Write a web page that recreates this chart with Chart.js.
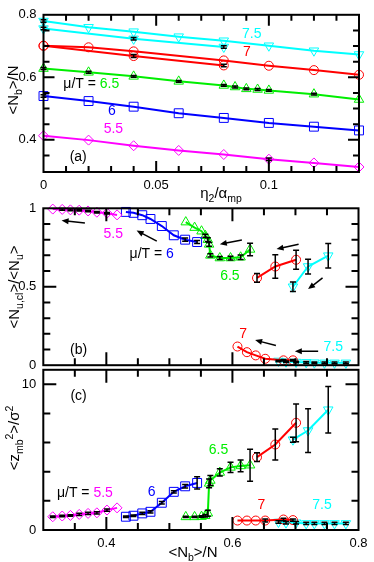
<!DOCTYPE html>
<html>
<head>
<meta charset="utf-8">
<script src="https://cdn.jsdelivr.net/npm/chart.js@4.4.0/dist/chart.umd.min.js"></script>
<style>
body { margin: 0; background: #fff; width: 374px; height: 562px; position: relative; overflow: hidden;
       font-family: "Liberation Sans", Arial, sans-serif; }
canvas { position: absolute; left: 0; }
.titulo { position: absolute; font-size: 15px; white-space: nowrap; transform: translate(-50%, -50%); color: #000; }
.girado { transform: translate(-50%, -50%) rotate(-90deg); }
sub, sup { font-size: 70%; line-height: 0; }
</style>
</head>
<body>
<canvas id="graficoA" width="374" height="200" style="top:0px"></canvas>
<canvas id="graficoB" width="374" height="190" style="top:190px"></canvas>
<canvas id="graficoC" width="374" height="207" style="top:355px"></canvas>

<div class="titulo girado" style="left:12px;top:90px">&lt;N<sub>b</sub>&gt;/N</div>
<div class="titulo" style="left:221px;top:192px">&eta;<sub>2</sub>/&alpha;<sub>mp</sub></div>
<div class="titulo girado" style="left:13px;top:287px">&lt;N<sub>u,cl</sub>&gt;/&lt;N<sub>u</sub>&gt;</div>
<div class="titulo girado" style="left:13px;top:438px">&lt;z<sub>mb</sub><sup>2</sup>&gt;/&sigma;<sup>2</sup></div>
<div class="titulo" style="left:193px;top:551px">&lt;N<sub>b</sub>&gt;/N</div>

<script>
var CIANO = '#00ffff', VERMELHO = '#ff0000', VERDE = '#00ee00', AZUL = '#0000ff', MAGENTA = '#ff00ff';
var FONTE = '"Liberation Sans", Arial, sans-serif';

// painel (a): eta2/alpha_mp x <Nb>/N
var etaA = [0, 0.02, 0.04, 0.06, 0.08, 0.1, 0.12, 0.14];
var etaRamoInf = [0, 0.04, 0.08];
var etaVermelho = [0, 0.02, 0.04, 0.08, 0.1, 0.12, 0.14];
var etaVerde = [0, 0.02, 0.04, 0.06, 0.08, 0.085, 0.09, 0.095, 0.1, 0.12, 0.14];

var nbCianoSup = [0.780, 0.760, 0.746, 0.730, 0.717, 0.701, 0.685, 0.673];
var nbCianoInf = [0.756, 0.723, 0.697];
var nbVermelhoSup = [0.701, 0.696, 0.683, 0.654, 0.637, 0.623, 0.608];
var nbVermelhoInf = [0.701, 0.668, 0.638];
var nbVerde = [0.628, 0.616, 0.603, 0.587, 0.574, 0.569, 0.563, 0.561, 0.558, 0.546, 0.529];
var nbAzul = [0.540, 0.524, 0.506, 0.485, 0.470, 0.454, 0.442, 0.430];
var nbMagenta = [0.413, 0.399, 0.381, 0.366, 0.353, 0.338, 0.326, 0.313];

var erroCianoSupA = [0.004, 0, 0, 0, 0, 0, 0, 0];
var erroCianoInfA = [0.004, 0.004, 0.004];
var erroVermelhoInfA = [0, 0.005, 0.004];
var erroVerdeA = [0.003, 0.003, 0.003, 0.003, 0.003, 0.003, 0.003, 0.003, 0.003, 0.003, 0];
var erroAzulA = [0.004, 0, 0, 0, 0, 0, 0, 0];
var erroMagentaA = [0, 0, 0, 0, 0, 0.004, 0, 0];

// paineis (b) e (c): <Nb>/N no eixo x
var xMagenta = [0.315, 0.330, 0.343, 0.357, 0.371, 0.385, 0.401, 0.417];
var xAzul = [0.431, 0.443, 0.457, 0.470, 0.488, 0.507, 0.525, 0.544];
var xVerde = [0.526, 0.540, 0.551, 0.557, 0.561, 0.563, 0.565, 0.580, 0.597, 0.613, 0.628];
var xVermelhoSup = [0.639, 0.668, 0.701];
var xVermelhoInf = [0.608, 0.623, 0.637, 0.652, 0.681, 0.696];
var xCianoSup = [0.696, 0.720, 0.752];
var xCianoInf = [0.673, 0.685, 0.701, 0.717, 0.730, 0.746, 0.762, 0.780];

// (b) <Nu,cl>/<Nu>
var clMagenta = [0.995, 0.993, 0.990, 0.988, 0.983, 0.975, 0.969, 0.958];
var clAzul = [0.977, 0.971, 0.956, 0.932, 0.887, 0.828, 0.800, 0.785];
var clVerde = [0.912, 0.877, 0.854, 0.825, 0.800, 0.770, 0.700, 0.683, 0.683, 0.688, 0.738];
var clVermelhoSup = [0.556, 0.629, 0.672];
var clVermelhoInf = [0.119, 0.083, 0.0625, 0.041, 0.031, 0.031];
var clCianoSup = [0.500, 0.629, 0.698];
var clCianoInf = [0.027, 0.022, 0.020, 0.018, 0.016, 0.015, 0.015, 0.015];

var erroMagentaB = [0, 0.005, 0.005, 0.005, 0.005, 0.005, 0.005, 0];
var erroAzulB = [0, 0, 0, 0, 0, 0, 0.01, 0.01];
var erroVerdeB = [0, 0, 0, 0.01, 0.012, 0.012, 0.01, 0.01, 0.012, 0.015, 0.04];
var erroVermelhoSupB = [0.028, 0.075, 0.06];
var erroVermelhoInfB = [0, 0, 0, 0, 0.005, 0.005];
var erroCianoSupB = [0.03, 0.047, 0.078];
var erroCianoInfB = [0.005, 0.005, 0.005, 0.005, 0.005, 0.005, 0.005, 0.005];

// (c) <zmb^2>/sigma^2
var zMagenta = [0.91, 0.96, 1.00, 1.07, 1.14, 1.18, 1.37, 1.52];
var zAzul = [0.91, 0.98, 1.14, 1.25, 1.87, 2.62, 3.00, 3.23];
var zVerde = [0.90, 0.90, 0.92, 0.98, 1.15, 3.20, 3.40, 3.95, 4.30, 4.40, 4.45];
var zVermelhoSup = [5.00, 5.87, 7.36];
var zVermelhoInf = [0.65, 0.65, 0.65, 0.65, 0.72, 0.68];
var zCianoSup = [6.20, 6.83, 8.26];
var zCianoInf = [0.55, 0.50, 0.50, 0.45, 0.45, 0.45, 0.45, 0.45];

var erroMagentaC = [0.05, 0.05, 0.05, 0.08, 0.08, 0.08, 0.08, 0];
var erroAzulC = [0.05, 0.05, 0.08, 0.08, 0.08, 0.08, 0.12, 0.42];
var erroVerdeC = [0.05, 0.05, 0.05, 0.08, 0.2, 0.3, 0.35, 0.25, 0.35, 0.4, 1.1];
var erroVermelhoSupC = [0.3, 1.06, 1.3];
var erroVermelhoInfC = [0, 0, 0, 0.1, 0.08, 0.08];
var erroCianoSupC = [0.17, 1.5, 1.6];
var erroCianoInfC = [0.08, 0.08, 0.08, 0.08, 0.08, 0.08, 0.08, 0.08];

// setas do painel (b): [x cauda, y cauda, x ponta, y ponta]
var setasB = [
    [0.366, 0.906, 0.329, 0.922],
    [0.480, 0.791, 0.448, 0.858],
    [0.615, 0.798, 0.580, 0.771],
    [0.705, 0.771, 0.670, 0.740],
    [0.743, 0.556, 0.720, 0.485],
    [0.669, 0.125, 0.636, 0.160],
    [0.736, 0.089, 0.699, 0.089]
];

var textosA = [
    { x: 0.0924, y: 0.738, partes: [['7.5', CIANO]] },
    { x: 0.0902, y: 0.680, partes: [['7', VERMELHO]] },
    { x: 0.0212, y: 0.579, partes: [['\u03bc/T = ', '#000'], ['6.5', VERDE]] },
    { x: 0.0303, y: 0.491, partes: [['6', AZUL]] },
    { x: 0.0310, y: 0.433, partes: [['5.5', MAGENTA]] },
    { x: 0.0154, y: 0.345, partes: [['(a)', '#000']] }
];
var textosB = [
    { x: 0.411, y: 0.833, partes: [['5.5', MAGENTA]] },
    { x: 0.472, y: 0.708, partes: [['\u03bc/T = ', '#000'], ['6', AZUL]] },
    { x: 0.596, y: 0.569, partes: [['6.5', VERDE]] },
    { x: 0.617, y: 0.198, partes: [['7', VERMELHO]] },
    { x: 0.760, y: 0.114, partes: [['7.5', CIANO]] },
    { x: 0.356, y: 0.094, partes: [['(b)', '#000']] }
];
var textosC = [
    { x: 0.356, y: 9.22, partes: [['(c)', '#000']] },
    { x: 0.366, y: 2.51, partes: [['\u03bc/T = ', '#000'], ['5.5', MAGENTA]] },
    { x: 0.472, y: 2.62, partes: [['6', AZUL]] },
    { x: 0.578, y: 5.46, partes: [['6.5', VERDE]] },
    { x: 0.646, y: 1.71, partes: [['7', VERMELHO]] },
    { x: 0.742, y: 1.71, partes: [['7.5', CIANO]] }
];

var RAIOS = { circle: 4.5, rect: 6.3, triangle: 5.5, rectRot: 5 };

function serie(xs, ys, cor, estilo, erros, invertido) {
    return {
        data: xs.map(function (x, i) { return { x: x, y: ys[i] }; }),
        showLine: true,
        borderColor: cor,
        backgroundColor: 'rgba(0,0,0,0)',
        borderWidth: 2,
        pointStyle: estilo,
        pointRadius: RAIOS[estilo],
        pointRotation: invertido ? 180 : 0,
        pointBorderColor: cor,
        pointBackgroundColor: 'rgba(0,0,0,0)',
        pointBorderWidth: 1,
        erros: erros || [],
        clip: false
    };
}

var molduraPlugin = {
    id: 'moldura',
    afterDatasetsDraw: function (chart, args, opts) {
        var ctx = chart.ctx, a = chart.chartArea;
        var sx = chart.scales.x, sy = chart.scales.y;
        ctx.save();

        // barras de erro
        ctx.strokeStyle = '#000';
        ctx.lineWidth = 1.5;
        chart.data.datasets.forEach(function (ds) {
            ds.data.forEach(function (p, i) {
                var e = ds.erros[i];
                if (!e) return;
                var px = sx.getPixelForValue(p.x);
                var y1 = sy.getPixelForValue(p.y - e), y2 = sy.getPixelForValue(p.y + e);
                ctx.beginPath();
                ctx.moveTo(px, y1); ctx.lineTo(px, y2);
                ctx.moveTo(px - 3, y1); ctx.lineTo(px + 3, y1);
                ctx.moveTo(px - 3, y2); ctx.lineTo(px + 3, y2);
                ctx.stroke();
            });
        });

        // moldura e marcas para dentro
        ctx.lineWidth = 2;
        ctx.strokeRect(a.left, a.top, a.right - a.left, a.bottom - a.top);
        ctx.beginPath();
        function marcasX(vals, len) {
            vals.forEach(function (v) {
                var px = sx.getPixelForValue(v);
                ctx.moveTo(px, a.bottom); ctx.lineTo(px, a.bottom - len);
                ctx.moveTo(px, a.top); ctx.lineTo(px, a.top + len);
            });
        }
        function marcasY(vals, len) {
            vals.forEach(function (v) {
                var py = sy.getPixelForValue(v);
                ctx.moveTo(a.left, py); ctx.lineTo(a.left + len, py);
                ctx.moveTo(a.right, py); ctx.lineTo(a.right - len, py);
            });
        }
        marcasX(opts.xMaior, opts.maior);
        marcasX(opts.xMenor, opts.menor);
        marcasY(opts.yMaior, opts.maior);
        marcasY(opts.yMenor, opts.menor);
        ctx.stroke();

        // setas
        (opts.setas || []).forEach(function (s) {
            var x1 = sx.getPixelForValue(s[0]), y1 = sy.getPixelForValue(s[1]);
            var x2 = sx.getPixelForValue(s[2]), y2 = sy.getPixelForValue(s[3]);
            var ang = Math.atan2(y2 - y1, x2 - x1);
            ctx.beginPath();
            ctx.lineWidth = 1.5;
            ctx.moveTo(x1, y1);
            ctx.lineTo(x2 - 5 * Math.cos(ang), y2 - 5 * Math.sin(ang));
            ctx.stroke();
            ctx.beginPath();
            ctx.fillStyle = '#000';
            ctx.moveTo(x2, y2);
            ctx.lineTo(x2 - 7 * Math.cos(ang) + 3 * Math.sin(ang), y2 - 7 * Math.sin(ang) - 3 * Math.cos(ang));
            ctx.lineTo(x2 - 7 * Math.cos(ang) - 3 * Math.sin(ang), y2 - 7 * Math.sin(ang) + 3 * Math.cos(ang));
            ctx.closePath();
            ctx.fill();
        });

        // rotulos das curvas
        ctx.font = '14px ' + FONTE;
        ctx.textBaseline = 'middle';
        ctx.textAlign = 'left';
        (opts.textos || []).forEach(function (t) {
            var total = t.partes.reduce(function (s, p) { return s + ctx.measureText(p[0]).width; }, 0);
            var px = sx.getPixelForValue(t.x) - total / 2, py = sy.getPixelForValue(t.y);
            t.partes.forEach(function (p) {
                ctx.fillStyle = p[1];
                ctx.fillText(p[0], px, py);
                px += ctx.measureText(p[0]).width;
            });
        });
        ctx.restore();
    }
};

function eixo(min, max, rotulos, tamanho, mostrar, vertical) {
    return {
        type: 'linear',
        min: min,
        max: max,
        grid: { display: false, drawTicks: false },
        border: { display: false },
        afterBuildTicks: function (s) {
            s.ticks = rotulos.map(function (v) { return { value: v }; });
        },
        afterFit: function (s) {
            if (vertical) s.width = tamanho; else s.height = tamanho;
        },
        ticks: {
            display: mostrar,
            color: '#000',
            font: { size: 13, family: FONTE },
            padding: vertical ? 7 : 6,
            maxRotation: 0,
            autoSkip: false,
            callback: function (v) { return String(v); }
        }
    };
}

function novoGrafico(id, datasets, escalaX, escalaY, padding, moldura) {
    return new Chart(document.getElementById(id).getContext('2d'), {
        type: 'scatter',
        data: { datasets: datasets },
        options: {
            responsive: false,
            animation: false,
            events: [],
            layout: { padding: padding },
            plugins: { legend: { display: false }, tooltip: { enabled: false }, moldura: moldura },
            scales: { x: escalaX, y: escalaY }
        },
        plugins: [molduraPlugin]
    });
}

var menorNb = [0.35, 0.45, 0.5, 0.55, 0.65, 0.7, 0.75];

novoGrafico('graficoA', [
    serie(etaA, nbCianoSup, CIANO, 'triangle', erroCianoSupA, true),
    serie(etaRamoInf, nbCianoInf, CIANO, 'triangle', erroCianoInfA, true),
    serie(etaVermelho, nbVermelhoSup, VERMELHO, 'circle'),
    serie(etaRamoInf, nbVermelhoInf, VERMELHO, 'circle', erroVermelhoInfA),
    serie(etaVerde, nbVerde, VERDE, 'triangle', erroVerdeA),
    serie(etaA, nbAzul, AZUL, 'rect', erroAzulA),
    serie(etaA, nbMagenta, MAGENTA, 'rectRot', erroMagentaA)
], eixo(0, 0.14, [0, 0.05, 0.1], 28, true, false),
   eixo(0.297, 0.8, [0.4, 0.6, 0.8], 43.5, true, true),
   { top: 11, right: 15, left: 0, bottom: 0 },
   { maior: 11, menor: 6,
     xMaior: [0.05, 0.1], xMenor: [0.01, 0.02, 0.03, 0.04, 0.06, 0.07, 0.08, 0.09, 0.11, 0.12, 0.13],
     yMaior: [0.4, 0.6], yMenor: [0.35, 0.45, 0.5, 0.55, 0.65, 0.7, 0.75],
     textos: textosA });

novoGrafico('graficoB', [
    serie(xMagenta, clMagenta, MAGENTA, 'rectRot', erroMagentaB),
    serie(xAzul, clAzul, AZUL, 'rect', erroAzulB),
    serie(xVerde, clVerde, VERDE, 'triangle', erroVerdeB),
    serie(xVermelhoSup, clVermelhoSup, VERMELHO, 'circle', erroVermelhoSupB),
    serie(xVermelhoInf, clVermelhoInf, VERMELHO, 'circle', erroVermelhoInfB),
    serie(xCianoSup, clCianoSup, CIANO, 'triangle', erroCianoSupB, true),
    serie(xCianoInf, clCianoInf, CIANO, 'triangle', erroCianoInfB, true)
], eixo(0.3, 0.8, [0.4, 0.6, 0.8], 11.7, false, false),
   eixo(0, 1, [0, 0.5, 1], 43.3, true, true),
   { top: 18.3, right: 15.5, left: 0, bottom: 0 },
   { maior: 13, menor: 7,
     xMaior: [0.4, 0.6], xMenor: menorNb,
     yMaior: [0.5], yMenor: [0.1, 0.2, 0.3, 0.4, 0.6, 0.7, 0.8, 0.9],
     setas: setasB, textos: textosB });

novoGrafico('graficoC', [
    serie(xMagenta, zMagenta, MAGENTA, 'rectRot', erroMagentaC),
    serie(xAzul, zAzul, AZUL, 'rect', erroAzulC),
    serie(xVerde, zVerde, VERDE, 'triangle', erroVerdeC),
    serie(xVermelhoSup, zVermelhoSup, VERMELHO, 'circle', erroVermelhoSupC),
    serie(xVermelhoInf, zVermelhoInf, VERMELHO, 'circle', erroVermelhoInfC),
    serie(xCianoSup, zCianoSup, CIANO, 'triangle', erroCianoSupC, true),
    serie(xCianoInf, zCianoInf, CIANO, 'triangle', erroCianoInfC, true)
], eixo(0.3, 0.8, [0.4, 0.6, 0.8], 32, true, false),
   eixo(0, 11, [0, 10], 43.3, true, true),
   { top: 13.3, right: 15.5, left: 0, bottom: 0 },
   { maior: 13, menor: 7,
     xMaior: [0.4, 0.6], xMenor: menorNb,
     yMaior: [10], yMenor: [2, 4, 6, 8],
     textos: textosC });
</script>
</body>
</html>
